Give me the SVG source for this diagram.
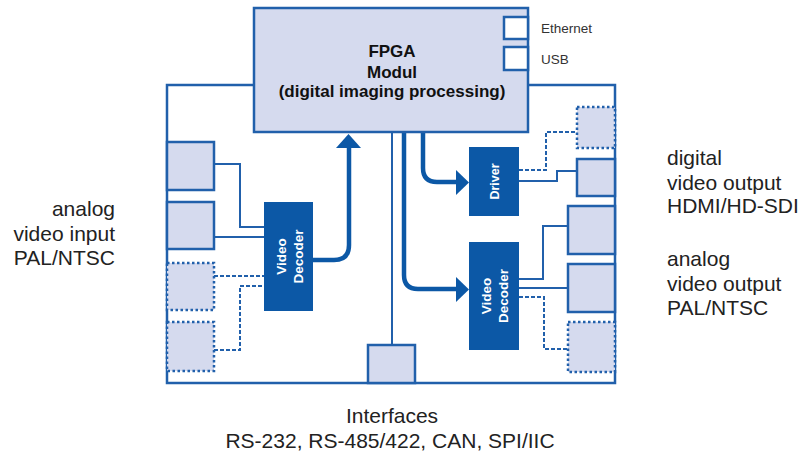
<svg xmlns="http://www.w3.org/2000/svg" width="804" height="451" viewBox="0 0 804 451">
<style>
.ln{fill:none;stroke:#2160ab;stroke-width:2}
.dl{fill:none;stroke:#2160ab;stroke-width:2;stroke-dasharray:4 2}
.bd{fill:#fff;stroke:#2160ab;stroke-width:2.5}
.pt{fill:#d5daee;stroke:#2160ab;stroke-width:2.5}
.pd{fill:#d5daee;stroke:#2160ab;stroke-width:2.5;stroke-dasharray:2.5 2.5}
.chip{fill:#0c58a6}
.th{fill:none;stroke:#0c58a6;stroke-width:4.5}
.ah{fill:#0c58a6}
.ct{font-family:"Liberation Sans",Arial,sans-serif;font-weight:bold;fill:#fff;font-size:13.5px;text-anchor:middle}
.big{font-family:"Liberation Sans",Arial,sans-serif;font-size:21px;fill:#222}
.sm{font-family:"Liberation Sans",Arial,sans-serif;font-size:13.5px;fill:#333}
.ft{font-family:"Liberation Sans",Arial,sans-serif;font-size:17px;font-weight:bold;fill:#111;text-anchor:middle}
</style>
<rect width="804" height="451" fill="#fff"/>
<g id="board"><rect class="bd" x="167" y="85" width="448" height="298"/></g>

<g id="connectors">
  <path class="ln" d="M214,164 H240 V227 H264"/>
  <path class="ln" d="M214,237 H264"/>
  <path class="dl" d="M214,276 H264"/>
  <path class="dl" d="M214,350 H240 V286 H264"/>
  <path class="ln" d="M392,132 V345"/>
  <path class="dl" d="M519,170 H546 V132 H577"/>
  <path class="ln" d="M519,181 H557 V171 H577"/>
  <path class="ln" d="M519,279 H543 V226 H568"/>
  <path class="ln" d="M519,288 H568"/>
  <path class="dl" d="M519,297 H544 V349 H568"/>
  <path class="th" d="M313,260 H334 Q349,260 349,245 V146"/>
  <polygon class="ah" points="336,148 361,148 348.5,134"/>
  <path class="th" d="M423,132 V168 Q423,182 437,182 H457"/>
  <polygon class="ah" points="456,170 456,195 469,182.5"/>
  <path class="th" d="M404,132 V275 Q404,289 418,289 H457"/>
  <polygon class="ah" points="456,277 456,302 469,289.5"/>
</g>

<g id="fpga">
  <rect x="254" y="8" width="274" height="124" fill="#d5daee" stroke="#2160ab" stroke-width="2.5"/>
  <text class="ft" x="392" y="57">FPGA</text>
  <text class="ft" x="392" y="78">Modul</text>
  <text class="ft" x="392" y="97">(digital imaging processing)</text>
</g>
<g id="ethernet">
  <rect x="504" y="17" width="24" height="22" fill="#fff" stroke="#2160ab" stroke-width="2.5"/>
  <text class="sm" x="541" y="33">Ethernet</text>
</g>
<g id="usb">
  <rect x="504" y="47" width="24" height="23" fill="#fff" stroke="#2160ab" stroke-width="2.5"/>
  <text class="sm" x="541" y="64">USB</text>
</g>

<g id="in1"><rect class="pt" x="167" y="142" width="47" height="48"/></g>
<g id="in2"><rect class="pt" x="167" y="202" width="47" height="47"/></g>
<g id="in3"><rect class="pd" x="167" y="263" width="47" height="47"/></g>
<g id="in4"><rect class="pd" x="167" y="322" width="47" height="49"/></g>

<g id="decoder1">
  <rect class="chip" x="264" y="202" width="49" height="109"/>
  <g transform="translate(288.5,256.5) rotate(-90)">
    <text class="ct" x="0" y="-3">Video</text>
    <text class="ct" x="0" y="14">Decoder</text>
  </g>
</g>
<g id="driver">
  <rect class="chip" x="469" y="147" width="50" height="69"/>
  <text class="ct" transform="translate(494,181.5) rotate(-90)" x="0" y="5" style="font-size:12.5px">Driver</text>
</g>
<g id="decoder2">
  <rect class="chip" x="469" y="242" width="50" height="108"/>
  <g transform="translate(494,296) rotate(-90)">
    <text class="ct" x="0" y="-3">Video</text>
    <text class="ct" x="0" y="14">Decoder</text>
  </g>
</g>

<g id="out1"><rect class="pd" x="577" y="107" width="38" height="41"/></g>
<g id="out2"><rect class="pt" x="577" y="159" width="38" height="37"/></g>
<g id="out3"><rect class="pt" x="568" y="206" width="47" height="48"/></g>
<g id="out4"><rect class="pt" x="568" y="264" width="47" height="48"/></g>
<g id="out5"><rect class="pd" x="568" y="322" width="47" height="50"/></g>

<g id="iface"><rect class="pt" x="368" y="345" width="47" height="38"/></g>

<g id="label-in">
  <text class="big" text-anchor="end" x="115" y="216">analog</text>
  <text class="big" text-anchor="end" x="115" y="241">video input</text>
  <text class="big" text-anchor="end" x="115" y="265">PAL/NTSC</text>
</g>
<g id="label-digital">
  <text class="big" x="667" y="165">digital</text>
  <text class="big" x="667" y="190">video output</text>
  <text class="big" x="667" y="213">HDMI/HD-SDI</text>
</g>
<g id="label-analog">
  <text class="big" x="667" y="266">analog</text>
  <text class="big" x="667" y="291">video output</text>
  <text class="big" x="667" y="315">PAL/NTSC</text>
</g>
<g id="label-if">
  <text class="big" text-anchor="middle" x="392" y="423">Interfaces</text>
  <text class="big" text-anchor="middle" x="390" y="448">RS-232, RS-485/422, CAN, SPI/IIC</text>
</g>
</svg>
